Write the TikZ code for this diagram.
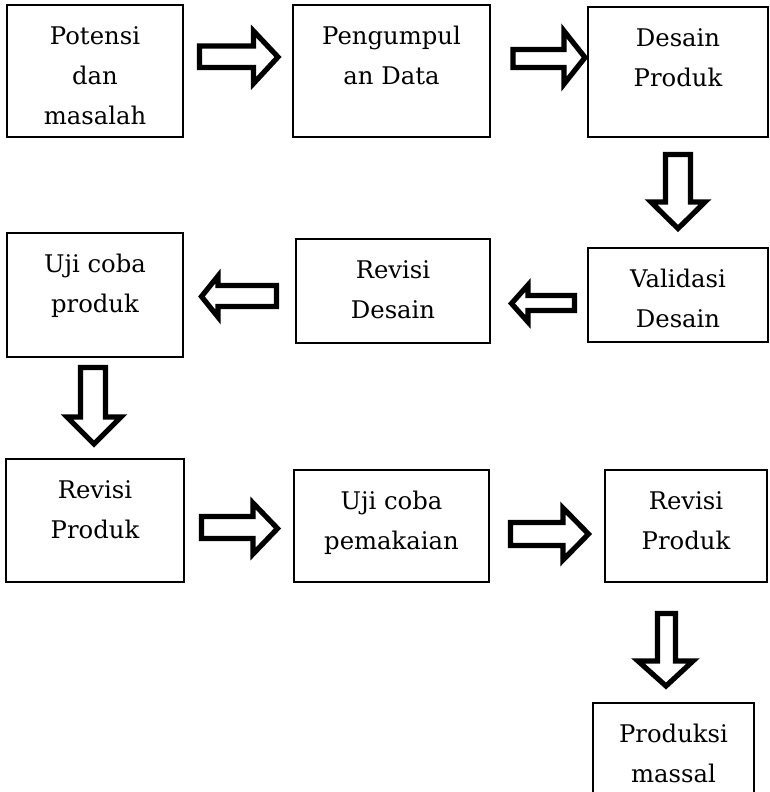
\documentclass[tikz,border=0pt]{standalone}
\usepackage{fontspec}
\setmainfont{DejaVu Serif}
\begin{document}
\begin{tikzpicture}[x=1pt,y=-1pt,
  boxst/.style={draw, line width=1.3pt, inner sep=0pt, outer sep=0pt,
    font=\fontsize{24.3}{40}\selectfont},
  blockarrow/.style={draw, line width=5.2pt, fill=white, line join=miter}]
\useasboundingbox (0,0) rectangle (769,792);
\clip (0,0) rectangle (769,792);
\newcommand\bbox[6]{%
  \pgfmathsetmacro\bw{#4-#2}\pgfmathsetmacro\bh{#5-#3}%
  \node[boxst, anchor=north west] (#1) at (#2,#3)
    {\parbox[b][\bh pt][t]{\bw pt}{\centering\rule{0pt}{39pt}#6}};}
\bbox{potensi}{7}{5}{183}{137}{Potensi\\dan\\masalah}
\bbox{pengumpulan}{293}{5}{490}{137}{Pengumpul\\an Data}
\bbox{desain}{588}{7}{768}{137}{Desain\\Produk}
\bbox{validasi}{588}{248}{768}{342}{Validasi\\Desain}
\bbox{revdesain}{296}{239}{490}{343}{Revisi\\Desain}
\bbox{ujiproduk}{7}{233}{183}{357}{Uji coba\\produk}
\bbox{revproduk}{6}{459}{184}{582}{Revisi\\Produk}
\bbox{ujipakai}{294}{470}{489}{582}{Uji coba\\pemakaian}
\bbox{revproduk2}{605}{470}{767}{582}{Revisi\\Produk}
\bbox{massal}{593}{703}{754}{830}{Produksi\\massal}
% block arrows
\draw[blockarrow] (199.5,46)--(253.5,46)--(253.5,31)--(278,57)--(253.5,83.5)--(253.5,67.5)--(199.5,67.5)--cycle;
\draw[blockarrow] (513,49.5)--(564,49.5)--(564,31)--(585,57.5)--(564,84)--(564,67.5)--(513,67.5)--cycle;
\draw[blockarrow] (665.5,154.5)--(690.5,154.5)--(690.5,202)--(705,202)--(678,228.5)--(651,202)--(665.5,202)--cycle;
\draw[blockarrow] (574.5,295.5)--(528,295.5)--(528,285)--(511.5,303.5)--(528,322)--(528,310.5)--(574.5,310.5)--cycle;
\draw[blockarrow] (276.5,285.5)--(218,285.5)--(218,276)--(201.5,296.5)--(218,317)--(218,306.5)--(276.5,306.5)--cycle;
\draw[blockarrow] (80.5,367.5)--(105.5,367.5)--(105.5,417)--(121,417)--(94,444)--(67,417)--(80.5,417)--cycle;
\draw[blockarrow] (201.5,516.5)--(253,516.5)--(253,503)--(277.5,528.5)--(253,554)--(253,538.5)--(201.5,538.5)--cycle;
\draw[blockarrow] (510.5,522.5)--(563,522.5)--(563,508)--(588.5,534)--(563,560)--(563,545.5)--(510.5,545.5)--cycle;
\draw[blockarrow] (657.5,613.5)--(675.5,613.5)--(675.5,661)--(693,661)--(666,686)--(638,661)--(657.5,661)--cycle;
\end{tikzpicture}
\end{document}
